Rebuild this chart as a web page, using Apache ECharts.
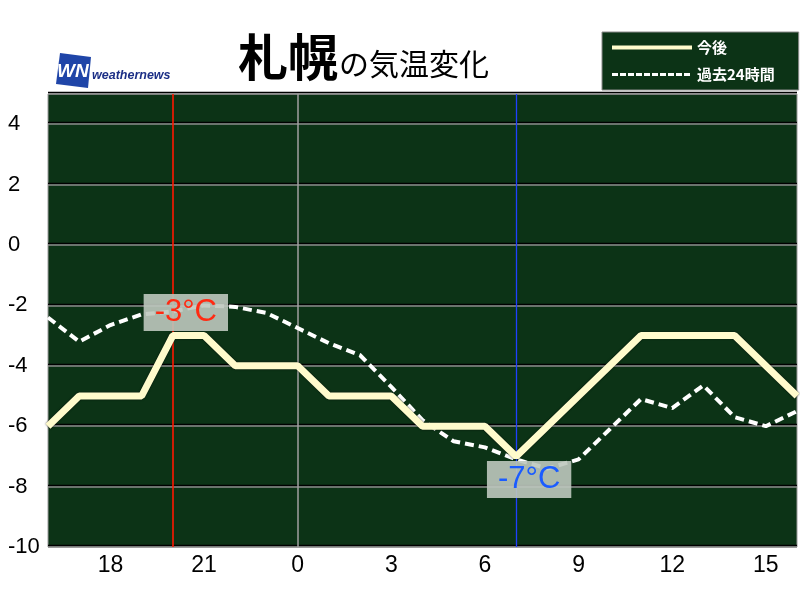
<!DOCTYPE html>
<html>
<head>
<meta charset="utf-8">
<script src="https://cdn.jsdelivr.net/npm/echarts@6/dist/echarts.min.js"></script>
<style>
  html, body { margin: 0; padding: 0; background: #ffffff; }
  #chart { width: 800px; height: 600px; }
</style>
</head>
<body>
<div id="chart"></div>
<script>
// Hourly time axis: 16:00 today through 16:00 tomorrow
const hours = ['16','17','18','19','20','21','22','23','0','1','2','3','4','5','6','7','8','9','10','11','12','13','14','15','16'];

// Forecast temperature (今後), °C
const forecast = [-6, -5, -5, -5, -3, -3, -4, -4, -4, -5, -5, -5, -6, -6, -6, -7, -6, -5, -4, -3, -3, -3, -3, -4, -5];

// Observed temperature over the past 24 hours (過去24時間), °C
const past = [-2.4, -3.2, -2.65, -2.3, -2.2, -2.0, -2.05, -2.25, -2.75, -3.25, -3.65, -4.7, -5.8, -6.5, -6.7, -7.1, -7.4, -7.1, -6.1, -5.1, -5.4, -4.65, -5.7, -6.0, -5.5];

// Hours of the forecast high and low, and midnight
const highHour = '20';
const lowHour = '7';
const midnightHour = '0';

const seriesNames = ['今後', '過去24時間'];

const FONT = '"Liberation Sans", "Noto Sans CJK JP", sans-serif';
const CJK = '"Noto Sans CJK JP", sans-serif';

const highIdx = hours.indexOf(highHour);
const lowIdx = hours.indexOf(lowHour);

// Value tag drawn next to the forecast high / low point
function tempLabel(color, pos) {
  return {
    show: true,
    position: pos,
    align: 'center',
    verticalAlign: 'middle',
    formatter: p => p.value + '°C',
    color: color,
    fontSize: 31,
    fontFamily: FONT,
    backgroundColor: 'rgba(190,200,190,0.9)',
    padding: [3, 11, 1, 11],
    lineHeight: 33
  };
}

function taggedPoint(v, color, pos) {
  return { value: v, symbol: 'circle', symbolSize: 0.01, label: tempLabel(color, pos) };
}

const forecastData = forecast.map((v, i) => {
  if (i === highIdx) return taggedPoint(v, '#ff2a12', [13, -23]);
  if (i === lowIdx) return taggedPoint(v, '#1a5cff', [13, 23]);
  return v;
});

const chart = echarts.init(document.getElementById('chart'));

chart.setOption({
  animation: false,
  backgroundColor: '#ffffff',
  title: {
    left: 233,
    top: 19,
    text: '{a|札幌}{b|の気温変化}',
    textStyle: {
      rich: {
        a: { fontSize: 50, fontWeight: 'bold', fontFamily: CJK, color: '#000000', verticalAlign: 'bottom', lineHeight: 58 },
        b: { fontSize: 30, fontWeight: 'normal', fontFamily: CJK, color: '#000000', verticalAlign: 'bottom', lineHeight: 40, padding: [0, 0, 3, 1] }
      }
    }
  },
  legend: {
    orient: 'vertical',
    left: 602,
    top: 32,
    padding: [8, 24, 8, 8],
    itemWidth: 80,
    itemHeight: 14,
    itemGap: 12,
    backgroundColor: '#0c3316',
    borderColor: '#8a8a8a',
    borderWidth: 1,
    selectedMode: false,
    itemStyle: { opacity: 0, borderWidth: 0 },
    textStyle: { color: '#ffffff', fontSize: 15, fontWeight: 'bold', fontFamily: CJK },
    data: [
      { name: seriesNames[0], lineStyle: { width: 4 } },
      { name: seriesNames[1], lineStyle: { width: 3, type: [6, 2] } }
    ]
  },
  graphic: [
    {
      type: 'polygon',
      shape: { points: [[60, 53], [91, 57], [88, 88], [56, 84]] },
      style: { fill: '#1f45a8' }
    },
    {
      type: 'text',
      left: 57,
      top: 62,
      style: { text: 'WN', fill: '#ffffff', fontSize: 19, fontWeight: 'bold', fontStyle: 'italic', fontFamily: '"Liberation Sans Narrow", "Liberation Sans", sans-serif' }
    },
    {
      type: 'text',
      left: 92,
      top: 69,
      style: { text: 'weathernews', fill: '#1c2f86', fontSize: 12.5, fontWeight: 'bold', fontStyle: 'italic', fontFamily: FONT }
    }
  ],
  grid: {
    left: 48,
    right: 3,
    top: 94,
    bottom: 53,
    show: true,
    backgroundColor: '#0c3316',
    borderColor: '#9a9a9a',
    borderWidth: 1
  },
  xAxis: {
    type: 'category',
    data: hours,
    boundaryGap: false,
    axisLine: { show: false },
    axisTick: { show: false },
    splitLine: { show: false },
    axisLabel: {
      interval: (idx, val) => idx > 0 && idx < hours.length - 1 && Number(val) % 3 === 0,
      color: '#000000',
      fontSize: 23,
      fontFamily: '"Liberation Sans Narrow", "Liberation Sans", sans-serif',
      margin: 7
    }
  },
  yAxis: {
    type: 'value',
    min: -10,
    max: 5,
    interval: 2,
    axisLine: { show: false },
    axisTick: { show: false },
    axisLabel: {
      showMaxLabel: false,
      color: '#000000',
      fontSize: 22,
      fontFamily: FONT,
      align: 'left',
      margin: 40
    },
    splitLine: {
      lineStyle: { color: '#8c8c8c', width: 1.5, shadowColor: '#000000', shadowOffsetY: -1.5, shadowBlur: 0 }
    }
  },
  series: [
    {
      name: seriesNames[1],
      type: 'line',
      data: past,
      symbol: 'none',
      z: 3,
      lineStyle: { color: '#ffffff', width: 4, type: [9, 5] },
      itemStyle: { color: '#ffffff' },
      markLine: {
        silent: true,
        symbol: 'none',
        label: { show: false },
        animation: false,
        z: 1,
        data: [
          { xAxis: highHour, lineStyle: { color: '#ff1800', width: 1.6, type: 'solid', opacity: 1 } },
          { xAxis: midnightHour, lineStyle: { color: '#a0a0a0', width: 1.5, type: 'solid', opacity: 1 } },
          { xAxis: lowHour, lineStyle: { color: '#2040ff', width: 1.3, type: 'solid', opacity: 1 } }
        ]
      }
    },
    {
      name: seriesNames[0],
      type: 'line',
      data: forecastData,
      symbol: 'none',
      z: 4,
      lineStyle: { color: '#fffbcc', width: 7, shadowColor: 'rgba(0,0,0,0.7)', shadowBlur: 2 },
      itemStyle: { color: '#fffbcc' },
      label: { show: false },
      labelLayout: { hideOverlap: false }
    }
  ]
});
</script>
</body>
</html>
